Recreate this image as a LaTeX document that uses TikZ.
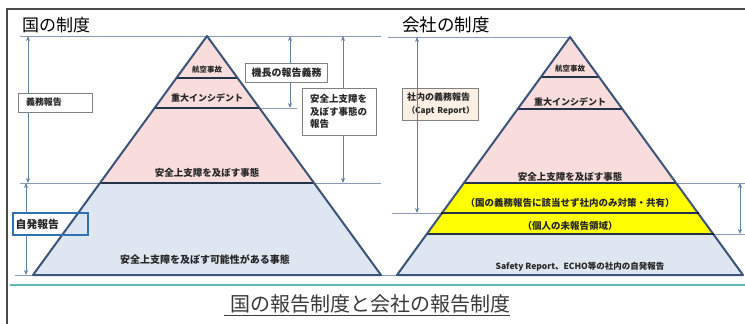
\documentclass[tikz,border=0pt]{standalone}
\usepackage{fontspec}
\setmainfont{Noto Sans CJK JP}
\usetikzlibrary{arrows.meta}
\definecolor{pyrline}{HTML}{3B5479}
\definecolor{sepline}{HTML}{24324A}
\definecolor{pinkfill}{HTML}{F9DCDC}
\definecolor{bluefill}{HTML}{DEE7F1}
\definecolor{yellowfill}{HTML}{FFFF00}
\definecolor{thinline}{HTML}{8A9BB3}
\definecolor{arrowcol}{HTML}{5F7FA6}
\definecolor{boxline}{HTML}{808080}
\definecolor{jiblue}{HTML}{2E74B5}
\definecolor{tealline}{HTML}{5CBDB5}
\definecolor{peach}{HTML}{FCEFE4}
\definecolor{txt}{HTML}{262626}
\definecolor{framegray}{HTML}{4A4A4A}
\definecolor{captxt}{HTML}{3A3A3A}
\begin{document}
\begin{tikzpicture}[x=1pt,y=-1pt,
  guide/.style={draw=thinline, line width=0.8pt},
  dimarrow/.style={draw=arrowcol, line width=0.9pt, {Stealth[length=5pt,width=4pt]}-{Stealth[length=5pt,width=4pt]}},
  pyr/.style={draw=pyrline, line width=2pt, line join=round},
  sepl/.style={draw=sepline, line width=1.8pt},
  lbl/.style={text=txt, inner sep=0pt},
  tag/.style={draw=boxline, fill=white, line width=0.8pt, inner xsep=8pt, inner ysep=3pt, text=txt, align=left},
]
\useasboundingbox (0,0) rectangle (745,324);
\fill[white] (0,0) rectangle (745,324);

% frame
\draw[framegray, line width=2pt] (7,324) -- (7,9) -- (745,9);

% titles
\node[anchor=west, inner sep=0pt, font=\fontsize{17}{20}\selectfont] (t1) at (22,25) {国の制度};
\node[anchor=west, inner sep=0pt, font=\fontsize{17.5}{20}\selectfont] (t2) at (402,25) {会社の制度};

% guide lines
\draw[guide] (20,36) -- (381,36);
\draw[guide] (388,37) -- (570,37);
\draw[guide] (20,183) -- (381,183);
\draw[guide] (259,108) -- (297,108);
\draw[guide] (15,275) -- (397,275);
\draw[guide] (392,213) -- (442,213);
\draw[guide] (676,183) -- (745,183);
\draw[guide] (713,234) -- (745,234);

% arrow end points
\coordinate (a1t) at (28,36);  \coordinate (a1b) at (28,183);
\coordinate (a2t) at (26,183); \coordinate (a2b) at (26,275);
\coordinate (a3t) at (290,36); \coordinate (a3b) at (290,108);
\coordinate (a4t) at (343,36); \coordinate (a4b) at (343,183);
\coordinate (a5t) at (417,37); \coordinate (a5b) at (417,213);
\coordinate (a6t) at (740,183); \coordinate (a6b) at (740,234);

\draw[dimarrow] (a1t) -- (a1b);
\draw[dimarrow] (a2t) -- (a2b);
\draw[dimarrow] (a3t) -- (a3b);
\draw[dimarrow] (a4t) -- (a4b);
\draw[dimarrow] (a6t) -- (a6b);

% self-report box background
\fill[white] (13,213) rectangle (88,235);

% left pyramid
\fill[pinkfill] (207,36) -- (100,183) -- (314,183) -- cycle;
\fill[bluefill] (100,183) -- (33,275) -- (381,275) -- (314,183) -- cycle;
\draw[sepl] (176,78) -- (238,78);
\draw[sepl] (155,108) -- (259,108);
\draw[sepl] (100,183) -- (314,183);
\draw[pyr] (207,36) -- (33,275) -- (381,275) -- cycle;

% right pyramid
\fill[pinkfill] (570,37) -- (464,183) -- (676,183) -- cycle;
\fill[yellowfill] (464,183) -- (427,234) -- (713,234) -- (676,183) -- cycle;
\fill[bluefill] (427,234) -- (397,275) -- (743,275) -- (713,234) -- cycle;
\draw[sepl] (541,77) -- (599,77);
\draw[sepl] (518,109) -- (622,109);
\draw[sepl] (464,183) -- (676,183);
\draw[sepl] (442,213) -- (698,213);
\draw[sepl] (427,234) -- (713,234);
\draw[pyr] (570,37) -- (397,275) -- (743,275) -- cycle;
\fill[black] (442,213) circle (1.2);
\fill[black] (698,213) circle (1.2);
\fill[black] (713,234) circle (1.2);

% left pyramid labels
\node[lbl, font=\fontsize{7.5}{9}\selectfont\bfseries] (l1) at (207,70) {航空事故};
\node[lbl, font=\fontsize{9}{10}\selectfont\bfseries] (l2) at (207,98) {重大インシデント};
\node[lbl, font=\fontsize{9.5}{11}\selectfont\bfseries] (l3) at (207,173) {安全上支障を及ぼす事態};
\node[lbl, font=\fontsize{10}{12}\selectfont\bfseries] (l4) at (205,260) {安全上支障を及ぼす可能性がある事態};

% right pyramid labels
\node[lbl, font=\fontsize{7.5}{9}\selectfont\bfseries] (r1) at (570,69) {航空事故};
\node[lbl, font=\fontsize{9}{10}\selectfont\bfseries] (r2) at (570,102) {重大インシデント};
\node[lbl, font=\fontsize{9.5}{11}\selectfont\bfseries] (r3) at (570,177) {安全上支障を及ぼす事態};
\node[lbl, font=\fontsize{9.5}{11}\selectfont\bfseries] (r4) at (570,203) {（国の義務報告に該当せず社内のみ対策・共有）};
\node[lbl, font=\fontsize{9.5}{11}\selectfont\bfseries] (r5) at (570,226) {（個人の未報告領域）};
\node[lbl, font=\fontsize{8.5}{10}\selectfont\bfseries] (r6) at (580,267) {Safety Report、ECHO等の社内の自発報告};

% boxes
\node[tag, text width=58pt, minimum height=19pt, font=\fontsize{9}{11}\selectfont\bfseries] (gimu) at (55,102.5) {義務報告};
\node[tag, text width=70pt, inner xsep=6pt, minimum height=19pt, align=center, font=\fontsize{10}{12}\selectfont\bfseries] (kicho) at (286.5,72.5) {機長の報告義務};
\node[tag, text width=58pt, minimum height=47pt, font=\fontsize{9.5}{12.5}\selectfont\bfseries] (anzen) at (339,111.5) {安全上支障を\\及ぼす事態の\\報告};
\node[tag, fill=peach, text width=66pt, inner xsep=5pt, minimum height=32pt, font=\fontsize{9}{13}\selectfont\bfseries] (shanai) at (440,104) {社内の義務報告\\\mbox{\fontsize{8.2}{13}\selectfont （Capt Report）}};
\draw[dimarrow] (a5t) -- (a5b);
\node[draw=jiblue, line width=2.5pt, minimum width=75pt, minimum height=22pt, inner sep=0pt] (jihatsu) at (50.5,224) {};
\node[lbl, anchor=west, font=\fontsize{10.8}{12}\selectfont\bfseries] (jihatsutext) at (15.5,224) {自発報告};

% bottom rule and caption
\draw[tealline, line width=2pt] (10,285) -- (745,285);
\node[inner sep=0pt, text=captxt, font=\fontsize{20}{24}\selectfont] (cap) at (370,304) {国の報告制度と会社の報告制度};
\draw[captxt, line width=0.8pt] ([xshift=-6pt,yshift=-4pt]cap.base west) -- ([yshift=-4pt]cap.base east);
\end{tikzpicture}
\end{document}
